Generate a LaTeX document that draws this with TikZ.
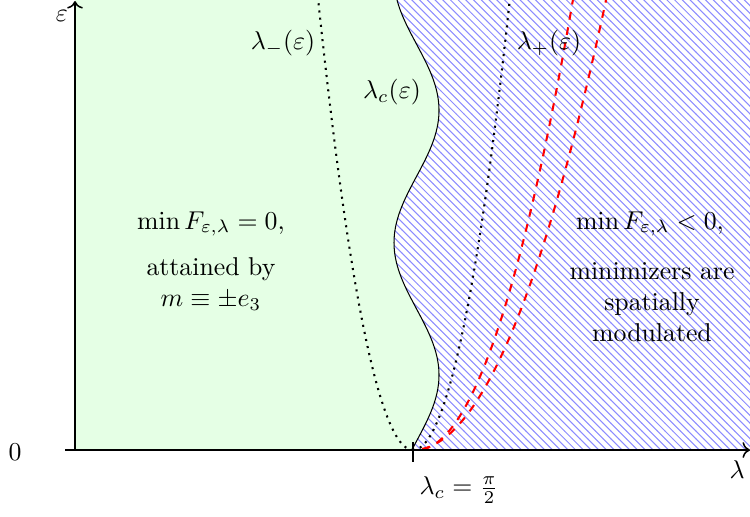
\documentclass[tikz,border=0pt]{standalone}
\usepackage{amsmath,amssymb}
\usepackage{tikz}
\usetikzlibrary{arrows.meta, positioning, patterns, calc}
\tikzset{
  axis/.style={semithick, ->},
  boundary/.style={thin, black},
  bound/.style={thick, dotted, black},
  modcurve/.style={thick, dashed, red},
  note/.style={align=center, inner sep=1pt},
  every node/.style={font=\normalsize}
}
% lambda_c(eps): x as a function of eps (eps = 450 - y)
\newcommand{\lamc}[1]{416.5+22.5*cos((#1-75)*1.36)}

\begin{document}
\begin{tikzpicture}[x=0.388pt, y=-0.388pt]
    \useasboundingbox (0,0) rectangle (750,516);

    \coordinate (O) at (75,450);
    \coordinate (xstart) at (65,450);
    \coordinate (xend) at (750,450);
    \coordinate (ytop) at (75,1);
    \coordinate (lc) at (413,450);

    % regions, bounded by lambda_c(eps)
    \fill[green!10] (75,450) -- plot[domain=0:450, samples=90, smooth, variable=\e] ({\lamc{\e}}, {450-\e}) -- (75,0) -- cycle;
    \fill[pattern=north west lines, pattern color=blue!45] (750,450) -- plot[domain=0:450, samples=90, smooth, variable=\e] ({\lamc{\e}}, {450-\e}) -- (750,0) -- cycle;
    \draw[boundary] plot[domain=0:450, samples=90, smooth, variable=\e] ({\lamc{\e}}, {450-\e});

    % lambda_-, lambda_+  (t = sqrt(eps))
    \draw[bound] plot[domain=0:21.21, samples=40, smooth, variable=\t] ({413-4.47*\t}, {450-\t*\t});
    \draw[bound] plot[domain=0:21.21, samples=40, smooth, variable=\t] ({413+4.56*\t}, {450-\t*\t});

    % modulated branches
    \draw[modcurve] plot[domain=0.8:21.21, samples=40, smooth, variable=\t] ({417+7.35*\t}, {450-\t*\t});
    \draw[modcurve] plot[domain=1:21.21, samples=40, smooth, variable=\t] ({413+9.1*\t}, {450-\t*\t});

    % axes
    \draw[axis] (xstart) -- (xend);
    \draw[axis] (O) -- (ytop);
    \draw[semithick] ($(lc)+(0,-8)$) -- ($(lc)+(0,12)$);

    \node (zero) at (15,452) {$0$};
    \node (eps) at (62,16) {$\varepsilon$};
    \node (lam) at (737,470) {$\lambda$};
    \node (lcval) at (459,490) {$\lambda_c=\frac{\pi}{2}$};

    \node (lminus) at (283,43) {$\lambda_-(\varepsilon)$};
    \node (lcrit) at (392,92) {$\lambda_c(\varepsilon)$};
    \node (lplus) at (549,43) {$\lambda_+(\varepsilon)$};

    \node[note] (left1) at (211,224) {$\min F_{\varepsilon,\lambda}=0,$};
    \node[note] (left2) at (211,284) {attained by\\$m\equiv\pm e_3$};
    \node[note] (right1) at (650,224) {$\min F_{\varepsilon,\lambda}<0,$};
    \node[note] (right2) at (652,302) {minimizers are\\spatially\\modulated};
\end{tikzpicture}
\end{document}
